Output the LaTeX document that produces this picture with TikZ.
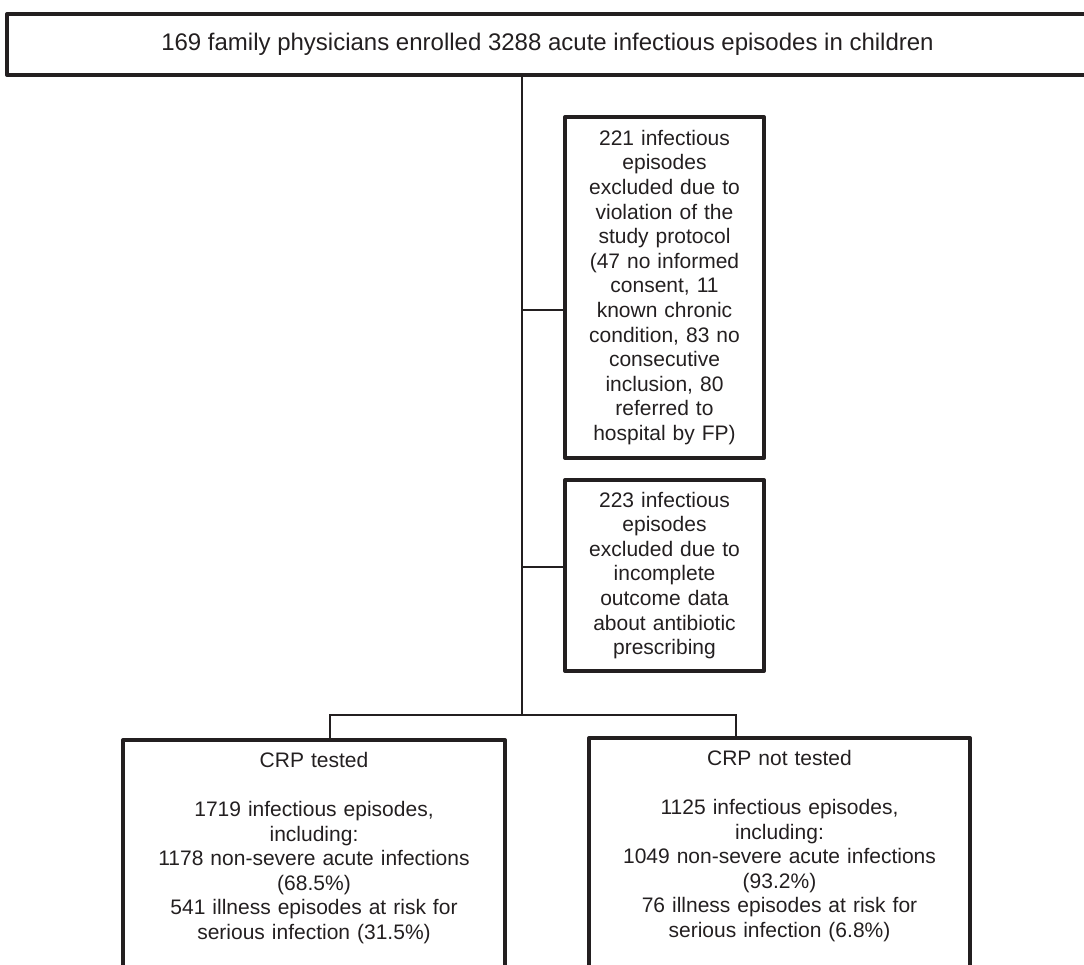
\documentclass[tikz,border=0pt]{standalone}
\usepackage{fontspec}
\setmainfont{Liberation Sans}
\definecolor{ink}{HTML}{231F20}
\tikzset{
  box/.style={draw=ink,line width=4pt,text=ink,align=center,inner sep=0pt,line join=round},
  link/.style={draw=ink,line width=2pt}
}
\begin{document}
\begin{tikzpicture}
  [x=1pt,y=-1pt,every node/.style={font=\fontsize{21}{24.6}\selectfont}]
  \useasboundingbox (0,0) rectangle (1084,964);

  \node[box,minimum width=1081pt,minimum height=61pt,font=\fontsize{24}{28}\selectfont] (top) at (547.5,44.5)
    {169 family physicians enrolled 3288 acute infectious episodes in children};
  \node[box,minimum width=199pt,minimum height=341pt,text width=190pt] (excl1) at (664.5,287.5)
    {221 infectious\\ episodes\\ excluded due to\\ violation of the\\ study protocol\\
     (47 no informed\\ consent, 11\\ known chronic\\ condition, 83 no\\ consecutive\\
     inclusion, 80\\ referred to\\ hospital by FP)};
  \node[box,minimum width=199pt,minimum height=191pt,text width=190pt] (excl2) at (664.5,575.5)
    {223 infectious\\ episodes\\ excluded due to\\ incomplete\\ outcome data\\
     about antibiotic\\ prescribing};
  \node[box,anchor=north,minimum width=382pt,text width=370pt,inner ysep=12pt] (tested) at (314,738)
    {CRP tested\\[24.6pt] 1719 infectious episodes,\\ including:\\
     1178 non-severe acute infections\\ (68.5\%)\\ 541 illness episodes at risk for\\
     serious infection (31.5\%)\\[40pt]\strut};
  \node[box,anchor=north,minimum width=381pt,text width=370pt,inner ysep=12pt] (nottested) at (779.5,736)
    {CRP not tested\\[24.6pt] 1125 infectious episodes,\\ including:\\
     1049 non-severe acute infections\\ (93.2\%)\\ 76 illness episodes at risk for\\
     serious infection (6.8\%)\\[40pt]\strut};

  \coordinate (split) at (522,715);
  \coordinate (b1) at (522,310);
  \coordinate (b2) at (522,567);
  \coordinate (lt) at (330,715);
  \coordinate (rt) at (736,715);

  \draw[link] (top.south -| split) -- (split);
  \draw[link] (b1) -- (b1 -| excl1.west);
  \draw[link] (b2) -- (b2 -| excl2.west);
  \draw[link] (lt |- tested.north) -- (lt) -- (rt) -- (rt |- nottested.north);
\end{tikzpicture}
\end{document}
